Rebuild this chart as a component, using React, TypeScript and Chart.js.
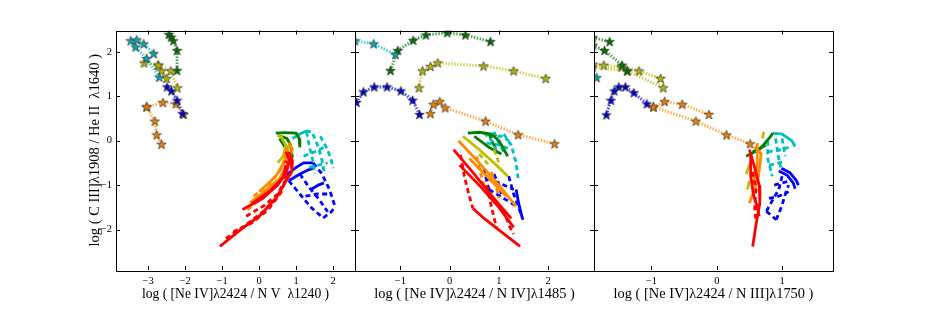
import React, { useEffect, useRef } from 'react';
import { Chart, registerables } from 'chart.js';
Chart.register(...registerables);

type Pt = [number, number];

// ---------- axes ----------
const yRange: Pt = [-2.91, 2.48];
const xRange1: Pt = [-3.87, 2.59];
const xRange2: Pt = [-1.92, 2.93];
const xRange3: Pt = [-1.88, 1.78];
const yTicks = [-2, -1, 0, 1, 2];
const xTicks1 = [-3, -2, -1, 0, 1, 2];
const xTicks2 = [-1, 0, 1, 2];
const xTicks3 = [-1, 0, 1];
const xTitle1 = 'log ( [Ne IV]λ2424 / N V  λ1240 )';
const xTitle2 = 'log ( [Ne IV]λ2424 / N IV]λ1485 )';
const xTitle3 = 'log ( [Ne IV]λ2424 / N III]λ1750 )';
const yTitle = 'log ( C III]λ1908 / He II  λ1640 )';

// ---------- panel 1: model grids ----------
const p1RedS1: Pt[] = [[-1.06, -2.38], [-0.5, -2.0], [0.0, -1.7], [0.45, -1.3], [0.7, -0.95], [0.88, -0.7], [0.9, -0.45], [0.8, -0.25]];
const p1RedS2: Pt[] = [[-0.45, -1.55], [0.1, -1.3], [0.5, -1.0], [0.75, -0.7], [0.8, -0.45]];
const p1RedS3: Pt[] = [[-0.2, -1.42], [0.3, -1.12], [0.65, -0.82], [0.72, -0.55]];
const p1RedS4: Pt[] = [[0.72, -0.25], [0.82, -0.45], [0.9, -0.65]];
const p1RedD1: Pt[] = [[-0.7, -2.05], [-0.2, -1.85], [0.25, -1.55], [0.6, -1.15], [0.75, -0.75], [0.72, -0.45]];
const p1RedD2: Pt[] = [[-0.35, -1.7], [0.15, -1.45], [0.5, -1.2], [0.7, -0.9]];
const p1RedD3: Pt[] = [[-0.9, -2.2], [-0.4, -1.92], [0.1, -1.6], [0.5, -1.25]];
const p1OrS1: Pt[] = [[-0.25, -1.4], [0.2, -1.1], [0.55, -0.85], [0.75, -0.55], [0.9, -0.2], [0.8, -0.05]];
const p1OrS2: Pt[] = [[0.0, -1.15], [0.45, -0.8], [0.7, -0.45], [0.75, -0.15]];
const p1OrD1: Pt[] = [[-0.15, -1.25], [0.3, -0.95], [0.62, -0.6], [0.7, -0.3]];
const p1OrD2: Pt[] = [[-0.32, -1.55], [0.05, -1.32], [0.35, -1.1]];
const p1YeS1: Pt[] = [[0.5, -0.5], [0.65, -0.35], [0.72, -0.1], [0.6, 0.08], [0.5, 0.12]];
const p1YeS2: Pt[] = [[0.6, -0.62], [0.75, -0.3], [0.8, -0.1]];
const p1GrS1: Pt[] = [[0.45, 0.17], [0.7, 0.18], [1.0, 0.17], [1.08, 0.05], [1.1, -0.15]];
const p1GrS2: Pt[] = [[0.5, 0.12], [0.75, 0.05], [0.85, -0.1], [0.9, -0.38]];
const p1GrS3: Pt[] = [[0.55, 0.05], [0.7, -0.15], [0.8, -0.3]];
const p1CyS1: Pt[] = [[0.9, 0.05], [1.1, 0.15], [1.28, 0.22], [1.4, 0.2]];
const p1CyD1: Pt[] = [[1.28, 0.2], [1.35, -0.1], [1.45, -0.45], [1.5, -0.75]];
const p1CyD2: Pt[] = [[1.45, 0.15], [1.6, -0.15], [1.7, -0.45], [1.75, -0.7]];
const p1CyD3: Pt[] = [[1.65, 0.1], [1.85, -0.2], [1.95, -0.45], [2.0, -0.62]];
const p1CyD4: Pt[] = [[1.2, -0.35], [1.5, -0.25], [1.75, -0.15]];
const p1CyD5: Pt[] = [[1.35, -0.6], [1.6, -0.55], [1.85, -0.5]];
const p1BlS1: Pt[] = [[0.74, -0.77], [1.0, -0.6], [1.2, -0.5], [1.46, -0.5]];
const p1BlS2: Pt[] = [[0.8, -0.9], [1.1, -0.75], [1.35, -0.65], [1.5, -0.62]];
const p1BlS3: Pt[] = [[1.4, -1.1], [1.6, -1.0], [1.75, -0.95]];
const p1BlD1: Pt[] = [[0.8, -0.9], [1.1, -1.2], [1.4, -1.5], [1.73, -1.74]];
const p1BlD2: Pt[] = [[1.1, -0.75], [1.35, -1.05], [1.6, -1.3], [1.85, -1.6]];
const p1BlD3: Pt[] = [[1.46, -0.5], [1.7, -0.75], [1.9, -1.1], [2.05, -1.48]];
const p1BlD4: Pt[] = [[1.73, -1.74], [1.95, -1.6], [2.05, -1.48]];
const p1BlD5: Pt[] = [[1.25, -1.25], [1.55, -1.2], [1.85, -1.2]];
// panel 1: star tracks
const p1StCyA: Pt[] = [[-3.31, 2.27], [-3.12, 2.18], [-2.85, 1.96]];
const p1StCyB: Pt[] = [[-3.47, 2.25], [-3.34, 2.11], [-3.04, 1.85], [-2.7, 1.43]];
const p1StYeA: Pt[] = [[-3.11, 1.75], [-2.73, 1.7], [-2.39, 1.57], [-2.21, 1.19]];
const p1StYeB: Pt[] = [[-2.73, 1.7], [-2.64, 1.57], [-2.5, 1.4]];
const p1StGr: Pt[] = [[-2.44, 2.39], [-2.38, 2.33], [-2.32, 2.25], [-2.22, 2.03], [-2.22, 1.58]];
const p1StBl: Pt[] = [[-2.49, 1.21], [-2.37, 1.12], [-2.22, 0.91], [-2.07, 0.61]];
const p1StOrA: Pt[] = [[-3.04, 0.76], [-2.6, 0.86], [-2.25, 0.83], [-2.04, 0.59]];
const p1StOrB: Pt[] = [[-3.04, 0.76], [-2.82, 0.44], [-2.77, 0.13], [-2.64, -0.08]];

// ---------- panel 2: model grids ----------
const p2RedS1: Pt[] = [[0.08, -0.2], [0.5, -0.75], [0.9, -1.3], [1.25, -1.75]];
const p2RedS2: Pt[] = [[0.2, -0.55], [0.6, -1.0], [1.0, -1.5], [1.3, -1.95]];
const p2RedS3: Pt[] = [[0.47, -1.52], [0.7, -1.75], [1.05, -2.05], [1.43, -2.38]];
const p2RedD1: Pt[] = [[0.22, -0.32], [0.3, -0.8], [0.4, -1.25], [0.47, -1.52]];
const p2RedD2: Pt[] = [[0.75, -1.0], [0.85, -1.5], [0.95, -1.95]];
const p2RedD3: Pt[] = [[1.1, -1.55], [1.2, -1.9], [1.3, -2.1]];
const p2OrS1: Pt[] = [[0.18, 0.0], [0.6, -0.5], [1.0, -1.0], [1.35, -1.48]];
const p2OrS2: Pt[] = [[0.4, -0.4], [0.8, -0.85], [1.15, -1.25]];
const p2OrD1: Pt[] = [[0.55, -0.35], [0.62, -0.7], [0.7, -1.0]];
const p2OrD2: Pt[] = [[0.85, -0.7], [0.95, -1.05], [1.0, -1.3]];
const p2YeS1: Pt[] = [[0.27, 0.1], [0.6, -0.2], [0.95, -0.55], [1.18, -0.8]];
const p2YeD1: Pt[] = [[0.6, -0.3], [0.8, -0.55]];
const p2YeD2: Pt[] = [[0.9, -0.2], [1.0, -0.5]];
const p2GrS1: Pt[] = [[0.37, 0.17], [0.6, 0.19], [0.85, 0.15], [1.0, 0.0], [1.18, -0.35]];
const p2GrS2: Pt[] = [[0.5, 0.1], [0.8, -0.15], [1.05, -0.3]];
const p2GrD1: Pt[] = [[0.8, 0.15], [0.9, -0.1], [0.95, -0.3]];
const p2CyD1: Pt[] = [[0.7, 0.18], [0.85, 0.0], [0.95, -0.2]];
const p2CyD2: Pt[] = [[0.9, 0.2], [1.0, -0.05], [1.1, -0.25]];
const p2CyD3: Pt[] = [[1.1, 0.15], [1.25, -0.1], [1.35, -0.5], [1.39, -0.84]];
const p2CyD4: Pt[] = [[0.75, -0.05], [1.0, -0.1], [1.25, -0.2]];
const p2CyD5: Pt[] = [[0.8, 0.1], [1.05, 0.1], [1.2, 0.0]];
const p2BlD1: Pt[] = [[0.7, -0.62], [0.75, -0.9], [0.8, -1.1]];
const p2BlD2: Pt[] = [[0.9, -0.75], [1.0, -1.0], [1.05, -1.2]];
const p2BlD3: Pt[] = [[1.2, -0.8], [1.3, -1.2], [1.4, -1.5], [1.49, -1.78]];
const p2BlD4: Pt[] = [[0.75, -0.85], [1.0, -0.95], [1.3, -1.1]];
const p2BlD5: Pt[] = [[0.8, -1.1], [1.1, -1.3], [1.4, -1.5]];
const p2BlS1: Pt[] = [[1.35, -1.1], [1.4, -1.4], [1.47, -1.72]];
// panel 2: star tracks
const p2StCy: Pt[] = [[-1.92, 2.25], [-1.54, 2.18], [-1.1, 1.94]];
const p2StGr: Pt[] = [[-1.2, 1.58], [-1.05, 2.03], [-0.74, 2.26], [-0.48, 2.38], [-0.05, 2.43], [0.32, 2.38], [0.83, 2.23]];
const p2StYe: Pt[] = [[-0.62, 1.19], [-0.55, 1.57], [-0.39, 1.67], [-0.24, 1.75], [0.69, 1.68], [1.3, 1.57], [1.95, 1.4]];
const p2StBl: Pt[] = [[-1.89, 0.86], [-1.75, 1.1], [-1.53, 1.21], [-1.27, 1.21], [-0.99, 1.12], [-0.75, 0.91], [-0.61, 0.59]];
const p2StOr: Pt[] = [[-0.39, 0.61], [-0.33, 0.82], [-0.2, 0.88], [-0.09, 0.74], [0.73, 0.44], [1.39, 0.135], [2.13, -0.07]];

// ---------- panel 3: model grids ----------
const p3RedS1: Pt[] = [[0.5, -0.2], [0.58, -0.6], [0.65, -1.0], [0.66, -1.4], [0.6, -1.9], [0.55, -2.38]];
const p3RedS2: Pt[] = [[0.52, -0.3], [0.52, -0.8], [0.56, -1.2], [0.62, -1.5], [0.65, -1.7]];
const p3RedD1: Pt[] = [[0.55, -0.7], [0.6, -1.1], [0.58, -1.5], [0.6, -1.8]];
const p3OrS1: Pt[] = [[0.58, -0.13], [0.68, -0.3], [0.64, -0.8], [0.58, -1.1], [0.5, -1.4]];
const p3OrS2: Pt[] = [[0.62, -0.05], [0.62, -0.6], [0.55, -1.0]];
const p3YeS1: Pt[] = [[0.45, -0.75], [0.5, -0.55], [0.55, -0.4]];
const p3YeS2: Pt[] = [[0.7, 0.05], [0.72, 0.2]];
const p3YeS3: Pt[] = [[0.47, -1.1], [0.5, -0.9]];
const p3GrS1: Pt[] = [[0.45, -0.35], [0.65, -0.2], [0.8, 0.05], [0.86, 0.17]];
const p3GrS2: Pt[] = [[0.55, -0.25], [0.75, -0.1]];
const p3CyS1: Pt[] = [[0.86, 0.17], [1.0, 0.15], [1.15, 0.0], [1.2, -0.13]];
const p3CyD1: Pt[] = [[0.78, 0.0], [0.78, -0.4], [0.85, -0.8]];
const p3CyD2: Pt[] = [[0.9, 0.05], [0.95, -0.4], [0.98, -0.6]];
const p3CyD3: Pt[] = [[1.0, 0.05], [1.05, -0.35]];
const p3CyD4: Pt[] = [[0.78, -0.25], [1.0, -0.2], [1.1, -0.15]];
const p3CyD5: Pt[] = [[0.8, -0.55], [0.95, -0.5], [1.05, -0.45]];
const p3BlS1: Pt[] = [[0.99, -0.62], [1.12, -0.72], [1.22, -0.9], [1.25, -1.0]];
const p3BlS2: Pt[] = [[0.95, -0.68], [1.08, -0.78], [1.17, -0.95], [1.2, -1.08]];
const p3BlD1: Pt[] = [[0.76, -1.59], [0.85, -1.35], [0.95, -1.1], [1.0, -0.8]];
const p3BlD2: Pt[] = [[0.91, -1.78], [1.0, -1.45], [1.05, -1.2], [1.1, -1.0]];
const p3BlD3: Pt[] = [[0.76, -1.59], [0.85, -1.7], [0.91, -1.78]];
const p3BlD4: Pt[] = [[0.8, -1.3], [0.95, -1.25], [1.1, -1.15]];
const p3BlD5: Pt[] = [[0.88, -1.0], [1.0, -0.95], [1.15, -0.9]];
// panel 3: star tracks
const p3StGrA: Pt[] = [[-1.9, 2.32], [-1.64, 2.23]];
const p3StGrB: Pt[] = [[-1.9, 2.15], [-1.72, 2.03], [-1.45, 1.7], [-1.37, 1.57]];
const p3StYeA: Pt[] = [[-1.9, 1.72], [-1.73, 1.7], [-1.46, 1.66], [-1.19, 1.57], [-0.86, 1.4]];
const p3StYeB: Pt[] = [[-1.9, 1.66], [-1.37, 1.57], [-0.82, 1.19]];
const p3StCy: Pt[] = [[-1.84, 1.42]];
const p3StBl: Pt[] = [[-1.69, 0.58], [-1.62, 0.91], [-1.57, 1.12], [-1.5, 1.21], [-1.4, 1.21], [-1.27, 1.08], [-1.07, 0.83]];
const p3StOrA: Pt[] = [[-0.97, 0.76], [-0.8, 0.88], [-0.53, 0.82], [-0.12, 0.59]];
const p3StOrB: Pt[] = [[-0.97, 0.76], [-0.32, 0.44], [0.15, 0.13], [0.51, -0.07]];

// ---------- styling ----------
const FONT = 'Liberation Serif';
const COL: Record<string, string> = {
  red: '#ff0000', orange: '#ff8c00', yellow: '#bfbf00', green: '#008000', cyan: '#00bfbf', blue: '#0000ff',
};
const STARFILL: Record<string, string> = {
  red: '#ff0000', orange: '#e88000', yellow: '#b4b400', green: '#007000', cyan: '#00aaaa', blue: '#0000cc',
};
const DOTCOL: Record<string, string> = {
  red: 'rgba(255,0,0,0.7)', orange: 'rgba(255,140,0,0.7)', yellow: 'rgba(191,191,0,0.7)',
  green: 'rgba(0,128,0,0.7)', cyan: 'rgba(0,191,191,0.7)', blue: 'rgba(0,0,255,0.7)',
};
const ORDER: Record<string, number> = { red: 1, orange: 2, yellow: 3, green: 4, cyan: 5, blue: 6 };

type Series = { d: Pt[]; c: string; s: 'solid' | 'dashed' | 'star' };

const PANELS: { xr: Pt; xt: number[]; title: string; tsize: number; left: number; right: number; series: Series[] }[] = [
  {
    xr: xRange1, xt: xTicks1, title: xTitle1, tsize: 13.6, left: 116, right: 355,
    series: [
      { d: p1RedS1, c: 'red', s: 'solid' }, { d: p1RedS2, c: 'red', s: 'solid' }, { d: p1RedS3, c: 'red', s: 'solid' },
      { d: p1RedS4, c: 'red', s: 'solid' },
      { d: p1RedD1, c: 'red', s: 'dashed' }, { d: p1RedD2, c: 'red', s: 'dashed' }, { d: p1RedD3, c: 'red', s: 'dashed' },
      { d: p1OrS1, c: 'orange', s: 'solid' }, { d: p1OrS2, c: 'orange', s: 'solid' }, { d: p1OrD1, c: 'orange', s: 'dashed' },
      { d: p1OrD2, c: 'orange', s: 'dashed' },
      { d: p1YeS1, c: 'yellow', s: 'solid' }, { d: p1YeS2, c: 'yellow', s: 'solid' },
      { d: p1GrS1, c: 'green', s: 'solid' }, { d: p1GrS2, c: 'green', s: 'solid' }, { d: p1GrS3, c: 'green', s: 'solid' },
      { d: p1CyS1, c: 'cyan', s: 'solid' }, { d: p1CyD1, c: 'cyan', s: 'dashed' }, { d: p1CyD2, c: 'cyan', s: 'dashed' },
      { d: p1CyD3, c: 'cyan', s: 'dashed' }, { d: p1CyD4, c: 'cyan', s: 'dashed' }, { d: p1CyD5, c: 'cyan', s: 'dashed' },
      { d: p1BlS1, c: 'blue', s: 'solid' }, { d: p1BlS2, c: 'blue', s: 'solid' }, { d: p1BlS3, c: 'blue', s: 'solid' },
      { d: p1BlD1, c: 'blue', s: 'dashed' }, { d: p1BlD2, c: 'blue', s: 'dashed' }, { d: p1BlD3, c: 'blue', s: 'dashed' },
      { d: p1BlD4, c: 'blue', s: 'dashed' }, { d: p1BlD5, c: 'blue', s: 'dashed' },
      { d: p1StCyA, c: 'cyan', s: 'star' }, { d: p1StCyB, c: 'cyan', s: 'star' },
      { d: p1StYeA, c: 'yellow', s: 'star' }, { d: p1StYeB, c: 'yellow', s: 'star' },
      { d: p1StGr, c: 'green', s: 'star' }, { d: p1StBl, c: 'blue', s: 'star' },
      { d: p1StOrA, c: 'orange', s: 'star' }, { d: p1StOrB, c: 'orange', s: 'star' },
    ],
  },
  {
    xr: xRange2, xt: xTicks2, title: xTitle2, tsize: 14.4, left: 355, right: 594,
    series: [
      { d: p2RedS1, c: 'red', s: 'solid' }, { d: p2RedS2, c: 'red', s: 'solid' }, { d: p2RedS3, c: 'red', s: 'solid' },
      { d: p2RedD1, c: 'red', s: 'dashed' }, { d: p2RedD2, c: 'red', s: 'dashed' }, { d: p2RedD3, c: 'red', s: 'dashed' },
      { d: p2OrS1, c: 'orange', s: 'solid' }, { d: p2OrS2, c: 'orange', s: 'solid' },
      { d: p2OrD1, c: 'orange', s: 'dashed' }, { d: p2OrD2, c: 'orange', s: 'dashed' },
      { d: p2YeS1, c: 'yellow', s: 'solid' }, { d: p2YeD1, c: 'yellow', s: 'dashed' }, { d: p2YeD2, c: 'yellow', s: 'dashed' },
      { d: p2GrS1, c: 'green', s: 'solid' }, { d: p2GrS2, c: 'green', s: 'solid' }, { d: p2GrD1, c: 'green', s: 'dashed' },
      { d: p2CyD1, c: 'cyan', s: 'dashed' }, { d: p2CyD2, c: 'cyan', s: 'dashed' }, { d: p2CyD3, c: 'cyan', s: 'dashed' },
      { d: p2CyD4, c: 'cyan', s: 'dashed' }, { d: p2CyD5, c: 'cyan', s: 'dashed' },
      { d: p2BlD1, c: 'blue', s: 'dashed' }, { d: p2BlD2, c: 'blue', s: 'dashed' }, { d: p2BlD3, c: 'blue', s: 'dashed' },
      { d: p2BlD4, c: 'blue', s: 'dashed' }, { d: p2BlD5, c: 'blue', s: 'dashed' }, { d: p2BlS1, c: 'blue', s: 'solid' },
      { d: p2StCy, c: 'cyan', s: 'star' }, { d: p2StGr, c: 'green', s: 'star' }, { d: p2StYe, c: 'yellow', s: 'star' },
      { d: p2StBl, c: 'blue', s: 'star' }, { d: p2StOr, c: 'orange', s: 'star' },
    ],
  },
  {
    xr: xRange3, xt: xTicks3, title: xTitle3, tsize: 14.4, left: 594, right: 833,
    series: [
      { d: p3RedS1, c: 'red', s: 'solid' }, { d: p3RedS2, c: 'red', s: 'solid' }, { d: p3RedD1, c: 'red', s: 'dashed' },
      { d: p3OrS1, c: 'orange', s: 'solid' }, { d: p3OrS2, c: 'orange', s: 'solid' },
      { d: p3YeS1, c: 'yellow', s: 'solid' }, { d: p3YeS2, c: 'yellow', s: 'solid' }, { d: p3YeS3, c: 'yellow', s: 'solid' },
      { d: p3GrS1, c: 'green', s: 'solid' }, { d: p3GrS2, c: 'green', s: 'solid' },
      { d: p3CyS1, c: 'cyan', s: 'solid' }, { d: p3CyD1, c: 'cyan', s: 'dashed' }, { d: p3CyD2, c: 'cyan', s: 'dashed' },
      { d: p3CyD3, c: 'cyan', s: 'dashed' }, { d: p3CyD4, c: 'cyan', s: 'dashed' }, { d: p3CyD5, c: 'cyan', s: 'dashed' },
      { d: p3BlS1, c: 'blue', s: 'solid' }, { d: p3BlS2, c: 'blue', s: 'solid' },
      { d: p3BlD1, c: 'blue', s: 'dashed' }, { d: p3BlD2, c: 'blue', s: 'dashed' },
      { d: p3BlD3, c: 'blue', s: 'dashed' }, { d: p3BlD4, c: 'blue', s: 'dashed' }, { d: p3BlD5, c: 'blue', s: 'dashed' },
      { d: p3StGrA, c: 'green', s: 'star' }, { d: p3StGrB, c: 'green', s: 'star' },
      { d: p3StYeA, c: 'yellow', s: 'star' }, { d: p3StYeB, c: 'yellow', s: 'star' },
      { d: p3StCy, c: 'cyan', s: 'star' }, { d: p3StBl, c: 'blue', s: 'star' },
      { d: p3StOrA, c: 'orange', s: 'star' }, { d: p3StOrB, c: 'orange', s: 'star' },
    ],
  },
];

const FIG_W = 926;
const FIG_H = 309;
const AREA_TOP = 30.5;
const AREA_BOTTOM = 270;

const starCache: Record<string, HTMLCanvasElement> = {};
function starMarker(color: string): HTMLCanvasElement {
  if (starCache[color]) return starCache[color];
  const size = 11;
  const c = document.createElement('canvas');
  c.width = size;
  c.height = size;
  const ctx = c.getContext('2d')!;
  const cx = size / 2, cy = size / 2 + 0.4;
  const R = size / 2 - 0.5, r = R * 0.42;
  ctx.beginPath();
  for (let i = 0; i < 10; i++) {
    const ang = -Math.PI / 2 + (i * Math.PI) / 5;
    const rad = i % 2 === 0 ? R : r;
    ctx.lineTo(cx + rad * Math.cos(ang), cy + rad * Math.sin(ang));
  }
  ctx.closePath();
  ctx.fillStyle = STARFILL[color];
  ctx.fill();
  ctx.strokeStyle = '#333';
  ctx.lineWidth = 0.7;
  ctx.stroke();
  starCache[color] = c;
  return c;
}

const fmt = (v: number | string) => {
  const n = Number(v);
  return n < 0 ? '\u2212' + Math.abs(n) : String(n);
};

function Panel({ idx }: { idx: number }) {
  const ref = useRef<HTMLCanvasElement>(null);
  useEffect(() => {
    const p = PANELS[idx];
    const first = idx === 0;
    const datasets = p.series.map((s) => {
      const data = s.d.map(([x, y]) => ({ x, y }));
      if (s.s === 'star') {
        return {
          data, showLine: true, borderColor: DOTCOL[s.c], borderWidth: 3, borderDash: [1.5, 1.5],
          pointStyle: starMarker(s.c) as any, pointRadius: 5, pointHoverRadius: 5, order: 0, clip: 0, tension: 0,
        };
      }
      return {
        data, showLine: true, borderColor: COL[s.c], borderWidth: 2.8,
        borderDash: s.s === 'dashed' ? [5, 3.5] : [], pointRadius: 0, pointHoverRadius: 0,
        order: ORDER[s.c], clip: 0, tension: 0,
      };
    });
    const framePlugin = {
      id: 'frame' + idx,
      afterDatasetsDraw(chart: any) {
        const { ctx, chartArea: a, scales } = chart;
        ctx.save();
        ctx.strokeStyle = '#000';
        ctx.lineWidth = 1;
        ctx.strokeRect(Math.round(a.left) + 0.5, Math.round(a.top) + 0.5, Math.round(a.right - a.left), Math.round(a.bottom - a.top));
        const L = 4;
        ctx.beginPath();
        for (const v of p.xt) {
          const px = Math.round(scales.x.getPixelForValue(v)) + 0.5;
          ctx.moveTo(px, a.bottom); ctx.lineTo(px, a.bottom - L);
          ctx.moveTo(px, a.top); ctx.lineTo(px, a.top + L);
        }
        for (const v of yTicks) {
          const py = Math.round(scales.y.getPixelForValue(v)) + 0.5;
          ctx.moveTo(a.left, py); ctx.lineTo(a.left + L, py);
          ctx.moveTo(a.right, py); ctx.lineTo(a.right - L, py);
        }
        ctx.stroke();
        ctx.restore();
      },
    };
    const yWidth = first ? 30 : 0;
    const xHeight = 34;
    const chart = new Chart(ref.current!, {
      type: 'scatter',
      data: { datasets: datasets as any },
      options: {
        animation: false,
        responsive: false,
        devicePixelRatio: 1,
        events: [],
        layout: {
          padding: {
            left: p.left - yWidth,
            right: FIG_W - p.right,
            top: AREA_TOP,
            bottom: FIG_H - AREA_BOTTOM - xHeight,
          },
        },
        plugins: { legend: { display: false }, tooltip: { enabled: false } },
        scales: {
          x: {
            type: 'linear',
            min: p.xr[0],
            max: p.xr[1],
            grid: { display: false, drawTicks: false },
            border: { display: false },
            afterBuildTicks: (s: any) => { s.ticks = p.xt.map((v) => ({ value: v })); },
            afterFit: (s: any) => { s.height = xHeight; },
            ticks: { font: { family: FONT, size: 10.5 }, color: '#000', padding: 5, maxRotation: 0, autoSkip: false, callback: (v: any) => fmt(v) },
            title: { display: true, text: p.title, font: { family: FONT, size: p.tsize }, color: '#000', padding: { top: 0, bottom: 1 } },
          },
          y: {
            type: 'linear',
            display: first,
            min: yRange[0],
            max: yRange[1],
            grid: { display: false, drawTicks: false },
            border: { display: false },
            afterBuildTicks: (s: any) => { s.ticks = yTicks.map((v) => ({ value: v })); },
            afterFit: (s: any) => { s.width = yWidth; },
            ticks: { font: { family: FONT, size: 10.5 }, color: '#000', padding: 4, autoSkip: false, callback: (v: any) => fmt(v) },
            title: { display: true, text: yTitle, font: { family: FONT, size: 14.5 }, color: '#000', padding: { top: 0, bottom: 0 } },
          },
        },
      },
      plugins: [framePlugin],
    });
    return () => chart.destroy();
  }, [idx]);
  return (
    <canvas
      ref={ref}
      width={FIG_W}
      height={FIG_H}
      style={{ position: 'absolute', left: 0, top: 0, width: FIG_W, height: FIG_H, pointerEvents: 'none' }}
    />
  );
}

export default function App() {
  return (
    <div style={{ position: 'fixed', left: 0, top: 0, width: FIG_W, height: FIG_H, background: '#fff', overflow: 'hidden' }}>
      <Panel idx={0} />
      <Panel idx={1} />
      <Panel idx={2} />
    </div>
  );
}
